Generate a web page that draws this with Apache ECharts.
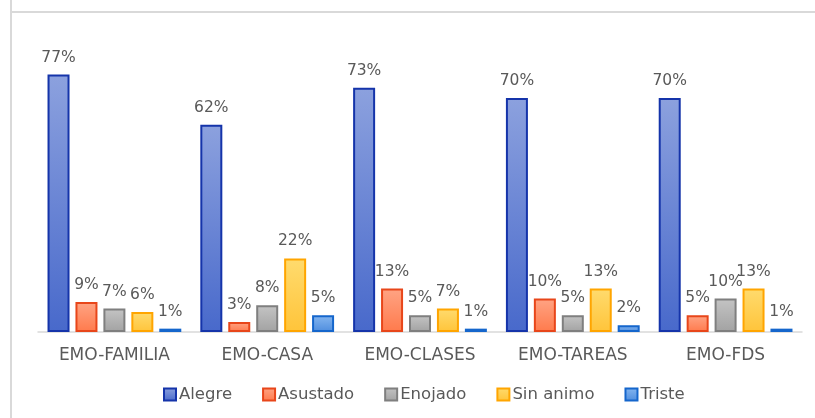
<!DOCTYPE html>
<html><head><meta charset="utf-8">
<script src="https://cdn.jsdelivr.net/npm/echarts@6/dist/echarts.min.js"></script>
<style>html,body{margin:0;padding:0;background:#fff}#c{width:815px;height:418px}</style>
</head><body><div id="c"></div>
<script>
const categories = ['EMO-FAMILIA','EMO-CASA','EMO-CLASES','EMO-TAREAS','EMO-FDS'];
const alegre   = [77, 62, 73, 70, 70];
const asustado = [9, 3, 13, 10, 5];
const enojado  = [7, 8, 5, 5, 10];
const sinAnimo = [6, 22, 7, 13, 13];
const triste   = [1, 5, 1, 2, 1];
const seriesNames = ['Alegre','Asustado','Enojado','Sin animo','Triste'];

const styles = [
  {top:'#8CA1DE', bottom:'#4869CB', border:'#1534AA'},
  {top:'#FFA484', bottom:'#FF7A4C', border:'#E8461A'},
  {top:'#C4C4C4', bottom:'#A2A2A2', border:'#7F7F7F'},
  {top:'#FFDB6E', bottom:'#FFC43A', border:'#FFA500'},
  {top:'#85B6F0', bottom:'#4E8DDE', border:'#1566CC'}
];
const dataSets = [alegre, asustado, enojado, sinAnimo, triste];
const font = '"DejaVu Sans", "Noto Sans", sans-serif';

const chart = echarts.init(document.getElementById('c'), null, {renderer:'canvas'});
chart.setOption({
  animation:false,
  backgroundColor:'#fff',
  grid:{left:38, right:13, top:31, bottom:86},
  xAxis:{type:'category', data:categories,
    axisLine:{lineStyle:{color:'#D9D9D9', width:1.5}},
    axisTick:{show:false},
    axisLabel:{color:'#595959', fontSize:17, fontFamily:font, margin:15}},
  yAxis:{type:'value', min:0, max:90, show:false, splitLine:{show:false}},
  legend:{bottom:10, left:158, itemWidth:12, itemHeight:12, itemGap:30,
    icon:'rect',
    textStyle:{color:'#595959', fontSize:16.5, fontFamily:font, padding:[0,0,0,-2]},
    data:seriesNames},
  graphic:[
    {type:'line', shape:{x1:11,y1:0,x2:11,y2:418}, style:{stroke:'#D9D9D9', lineWidth:2}, silent:true, z:-1},
    {type:'line', shape:{x1:10,y1:12,x2:815,y2:12}, style:{stroke:'#D9D9D9', lineWidth:2}, silent:true, z:-1}
  ],
  series: dataSets.map((d,i)=>({
    name:seriesNames[i], type:'bar', data:d,
    barWidth:22, barGap:'27%',
    itemStyle:{
      color:new echarts.graphic.LinearGradient(0,0,0,1,[{offset:0,color:styles[i].top},{offset:1,color:styles[i].bottom}]),
      borderColor:styles[i].border, borderWidth:2
    },
    label:{show:true, position:'top', distance:9, formatter:'{c}%',
      color:'#595959', fontSize:15.5, fontFamily:font}
  }))
});
</script></body></html>
